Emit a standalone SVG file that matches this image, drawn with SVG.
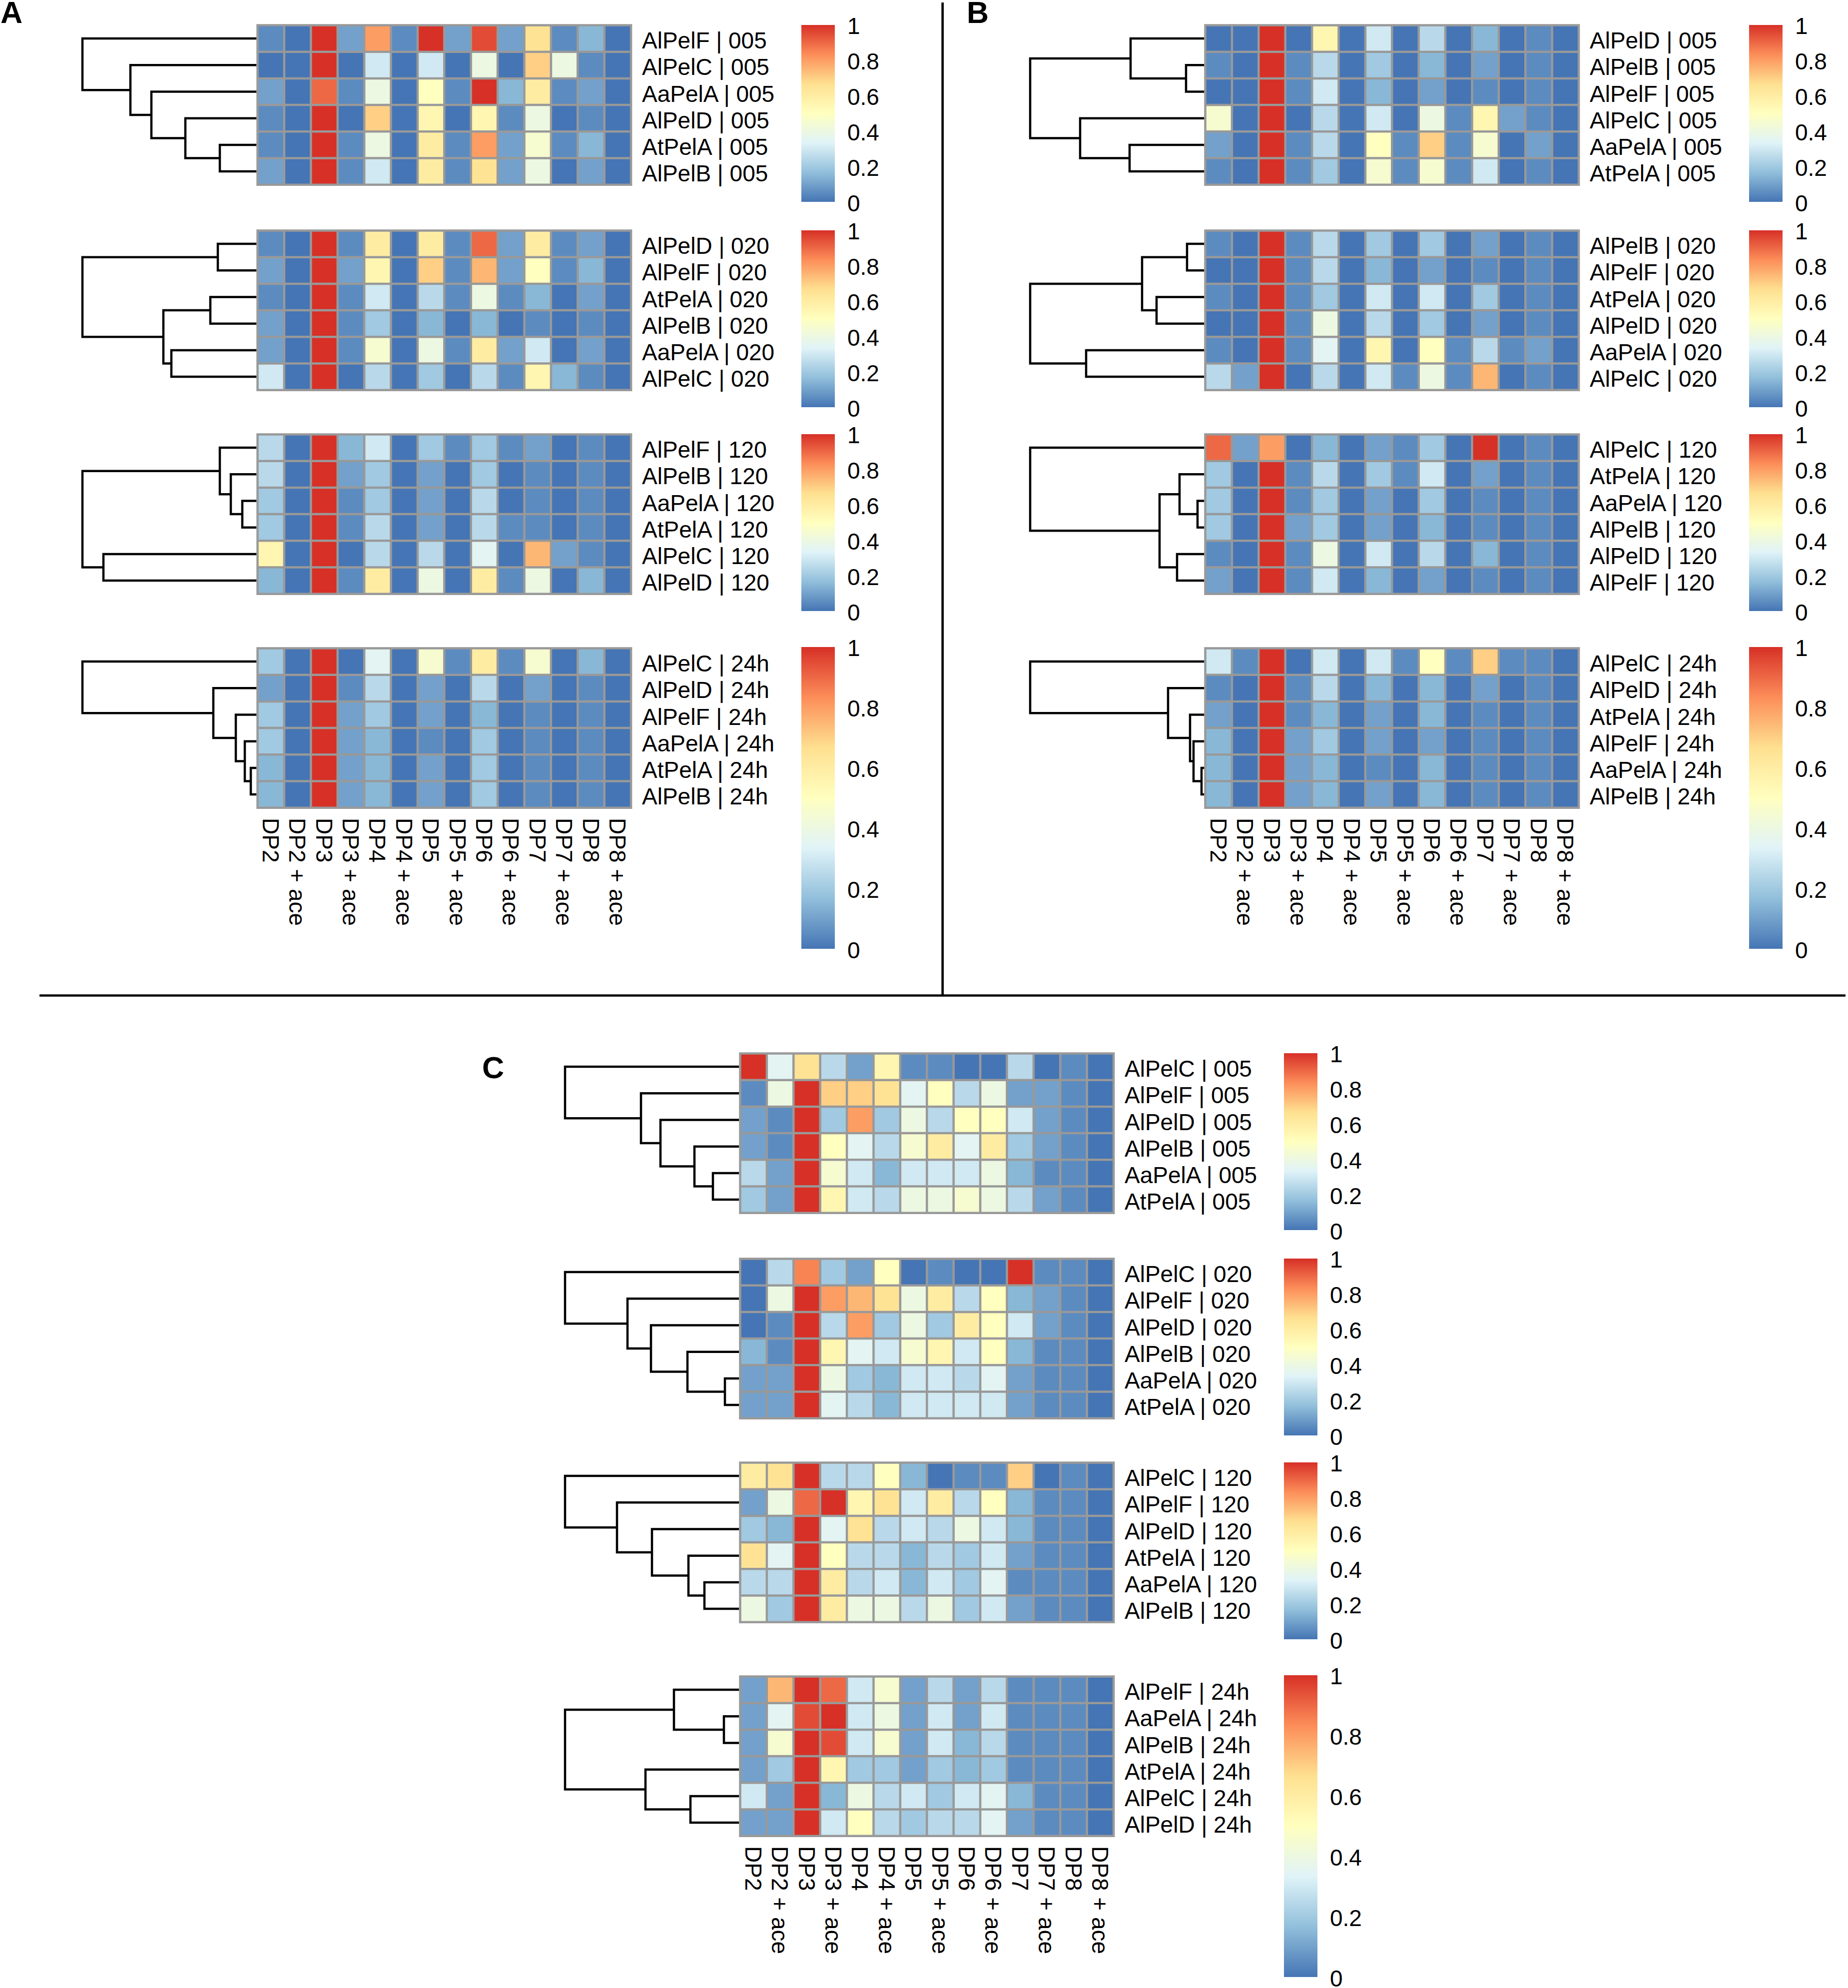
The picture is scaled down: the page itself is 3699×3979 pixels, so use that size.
<svg xmlns="http://www.w3.org/2000/svg" xmlns:xlink="http://www.w3.org/1999/xlink" width="3699" height="3979" viewBox="0 0 3699 3979">
<style>
.k0{fill:#4575B4}.k1{fill:#5C8BC0}.k2{fill:#73A1CB}.k3{fill:#89B8D7}.k4{fill:#A1C9E1}.k5{fill:#B9D9EA}.k6{fill:#D0E9F2}.k7{fill:#E3F4F2}.k8{fill:#ECF8E1}.k9{fill:#F6FBD0}.k10{fill:#FFFFBF}.k11{fill:#FFF6B1}.k12{fill:#FEECA3}.k13{fill:#FEE395}.k14{fill:#FECF85}.k15{fill:#FDB775}.k16{fill:#FC9E64}.k17{fill:#F88454}.k18{fill:#ED6845}.k19{fill:#E24C36}.k20{fill:#D73027}
.grid{fill:none;stroke:#999999;stroke-width:4.5;stroke-linecap:square}
.den{fill:none;stroke:#000;stroke-width:4.5}
.cb{fill:url(#rb)}
text{font-family:"Liberation Sans",Arial,sans-serif;font-size:46px;fill:#000}
.pl{font-size:61px;font-weight:bold}
.sep{stroke:#000;stroke-width:4.7}
</style>
<defs>
<linearGradient id="rb" x1="0" y1="1" x2="0" y2="0">
<stop offset="0" stop-color="#4575B4"/><stop offset="0.1667" stop-color="#91BFDB"/><stop offset="0.3333" stop-color="#E0F3F8"/><stop offset="0.5" stop-color="#FFFFBF"/><stop offset="0.6667" stop-color="#FEE090"/><stop offset="0.8333" stop-color="#FC8D59"/><stop offset="1" stop-color="#D73027"/>
</linearGradient>
<path id="grid" class="grid" d="M0 0V319.2M53.4 0V319.2M106.8 0V319.2M160.2 0V319.2M213.6 0V319.2M267 0V319.2M320.4 0V319.2M373.8 0V319.2M427.2 0V319.2M480.6 0V319.2M534 0V319.2M587.4 0V319.2M640.8 0V319.2M694.2 0V319.2M747.6 0V319.2M0 0H747.6M0 53.2H747.6M0 106.4H747.6M0 159.6H747.6M0 212.8H747.6M0 266H747.6M0 319.2H747.6"/>
<g id="bars">
<rect class="cb" x="1604" y="50" width="67" height="354"/>
<rect class="cb" x="1604" y="461" width="67" height="354"/>
<rect class="cb" x="1604" y="869" width="67" height="354"/>
<rect class="cb" x="1604" y="1295" width="67" height="604"/>
<g>
<text x="1696" y="68">1</text><text x="1696" y="139">0.8</text><text x="1696" y="210">0.6</text><text x="1696" y="281">0.4</text><text x="1696" y="352">0.2</text><text x="1696" y="423">0</text>
<text x="1696" y="479">1</text><text x="1696" y="550">0.8</text><text x="1696" y="621">0.6</text><text x="1696" y="692">0.4</text><text x="1696" y="763">0.2</text><text x="1696" y="834">0</text>
<text x="1696" y="887">1</text><text x="1696" y="958">0.8</text><text x="1696" y="1029">0.6</text><text x="1696" y="1100">0.4</text><text x="1696" y="1171">0.2</text><text x="1696" y="1242">0</text>
<text x="1696" y="1313">1</text><text x="1696" y="1434">0.8</text><text x="1696" y="1555">0.6</text><text x="1696" y="1676">0.4</text><text x="1696" y="1797">0.2</text><text x="1696" y="1918">0</text>
</g>
</g>
<g id="collabs" transform="rotate(90)">
<text x="1637" y="-525.7">DP2</text><text x="1637" y="-579.1">DP2 + ace</text><text x="1637" y="-632.5">DP3</text><text x="1637" y="-685.9">DP3 + ace</text><text x="1637" y="-739.3">DP4</text><text x="1637" y="-792.7">DP4 + ace</text><text x="1637" y="-846.1">DP5</text><text x="1637" y="-899.5">DP5 + ace</text><text x="1637" y="-952.9">DP6</text><text x="1637" y="-1006.3">DP6 + ace</text><text x="1637" y="-1059.7">DP7</text><text x="1637" y="-1113.1">DP7 + ace</text><text x="1637" y="-1166.5">DP8</text><text x="1637" y="-1219.9">DP8 + ace</text>
</g>
</defs>
<rect width="3699" height="3979" fill="#fff"/>

<g id="separators">
<line class="sep" x1="1886.7" y1="5" x2="1886.7" y2="1992.5"/>
<line class="sep" x1="79" y1="1992.5" x2="3694" y2="1992.5"/>
</g>
<g id="panel-letters">
<text class="pl" x="1" y="46">A</text>
<text class="pl" x="1935" y="46">B</text>
<text class="pl" x="965" y="2158">C</text>
</g>

<!-- PANEL A -->
<g id="panelA">
<g id="A-dendrograms">
<path class="den" d="M513.5 289.9H440V343.1H513.5M513.5 236.7H371V316.5H440M513.5 183.5H303V276.6H371M513.5 130.3H261V230.05H303M513.5 77.1H165V180.18H261"/>
<path class="den" d="M513.5 488.1H436V541.3H513.5M513.5 594.5H421V647.7H513.5M513.5 700.9H343V754.1H513.5M421 621.1H327V727.5H343M436 514.7H165V674.3H327"/>
<path class="den" d="M513.5 1002.5H485V1055.7H513.5M513.5 949.3H462V1029.1H485M513.5 896.1H440V989.2H462M513.5 1108.9H207V1162.1H513.5M440 942.65H165V1135.5H207"/>
<path class="den" d="M513.5 1536.9H502V1590.1H513.5M513.5 1483.7H490V1563.5H502M513.5 1430.5H472V1523.6H490M513.5 1377.3H427V1477.05H472M513.5 1324.1H165V1427.18H427"/>
</g>
<g id="A-005" transform="translate(515.5,50.5)"><g transform="scale(53.4,53.2)"><rect class="k0" width="14" height="6"/>
<path class="k1" d="M0 0h1v1h-1zM5 0h1v1h-1zM11 0h1v1h-1zM12 1h1v1h-1zM3 2h1v1h-1zM7 2h1v1h-1zM11 2h1v1h-1zM0 3h1v2h-1zM9 3h1v1h-1zM12 3h1v1h-1zM3 4h1v2h-1zM7 4h1v2h-1zM11 4h1v1h-1z"/>
<path class="k2" d="M3 0h1v1h-1zM7 0h1v1h-1zM9 0h1v1h-1zM0 2h1v1h-1zM12 2h1v1h-1zM9 4h1v2h-1zM0 5h1v1h-1zM12 5h1v1h-1z"/>
<path class="k3" d="M12 0h1v1h-1zM9 2h1v1h-1zM12 4h1v1h-1z"/>
<path class="k6" d="M4 1h1v1h-1zM6 1h1v1h-1zM4 5h1v1h-1z"/>
<path class="k8" d="M8 1h1v1h-1zM11 1h1v1h-1zM4 2h1v1h-1zM10 3h1v1h-1zM4 4h1v1h-1zM10 5h1v1h-1z"/>
<path class="k9" d="M10 4h1v1h-1z"/>
<path class="k10" d="M6 2h1v1h-1z"/>
<path class="k11" d="M6 3h1v1h-1zM8 3h1v1h-1z"/>
<path class="k12" d="M10 2h1v1h-1zM6 4h1v2h-1z"/>
<path class="k13" d="M10 0h1v1h-1zM8 5h1v1h-1z"/>
<path class="k14" d="M10 1h1v1h-1zM4 3h1v1h-1z"/>
<path class="k16" d="M4 0h1v1h-1zM8 4h1v1h-1z"/>
<path class="k18" d="M2 2h1v1h-1z"/>
<path class="k19" d="M8 0h1v1h-1z"/>
<path class="k20" d="M2 0h1v2h-1zM6 0h1v1h-1zM8 2h1v1h-1zM2 3h1v3h-1z"/>
</g><use href="#grid"/></g>
<g id="A-020" transform="translate(515.5,461.5)"><g transform="scale(53.4,53.2)"><rect class="k0" width="14" height="6"/>
<path class="k1" d="M0 0h1v1h-1zM3 0h1v1h-1zM7 0h1v3h-1zM11 0h1v2h-1zM0 2h1v1h-1zM3 2h1v3h-1zM9 2h1v1h-1zM10 3h1v1h-1zM12 3h1v1h-1zM7 4h1v1h-1zM9 5h1v1h-1zM12 5h1v1h-1z"/>
<path class="k2" d="M9 0h1v2h-1zM12 0h1v1h-1zM0 1h1v1h-1zM3 1h1v1h-1zM12 2h1v1h-1zM0 3h1v2h-1zM9 4h1v1h-1zM12 4h1v1h-1z"/>
<path class="k3" d="M12 1h1v1h-1zM10 2h1v1h-1zM6 3h1v1h-1zM8 3h1v1h-1zM11 5h1v1h-1z"/>
<path class="k4" d="M4 3h1v1h-1zM6 5h1v1h-1z"/>
<path class="k5" d="M6 2h1v1h-1zM4 5h1v1h-1zM8 5h1v1h-1z"/>
<path class="k6" d="M4 2h1v1h-1zM10 4h1v1h-1zM0 5h1v1h-1z"/>
<path class="k8" d="M8 2h1v1h-1zM6 4h1v1h-1z"/>
<path class="k9" d="M4 4h1v1h-1z"/>
<path class="k10" d="M10 1h1v1h-1z"/>
<path class="k11" d="M4 1h1v1h-1zM10 5h1v1h-1z"/>
<path class="k12" d="M4 0h1v1h-1zM6 0h1v1h-1zM10 0h1v1h-1zM8 4h1v1h-1z"/>
<path class="k14" d="M6 1h1v1h-1z"/>
<path class="k15" d="M8 1h1v1h-1z"/>
<path class="k18" d="M8 0h1v1h-1z"/>
<path class="k20" d="M2 0h1v6h-1z"/>
</g><use href="#grid"/></g>
<g id="A-120" transform="translate(515.5,869.5)"><g transform="scale(53.4,53.2)"><rect class="k0" width="14" height="6"/>
<path class="k1" d="M7 0h1v1h-1zM9 0h1v1h-1zM12 0h1v5h-1zM10 1h1v3h-1zM3 2h1v2h-1zM9 3h1v1h-1zM3 5h1v1h-1zM9 5h1v1h-1z"/>
<path class="k2" d="M10 0h1v1h-1zM3 1h1v1h-1zM6 1h1v3h-1zM11 4h1v1h-1z"/>
<path class="k3" d="M3 0h1v1h-1zM0 5h1v1h-1zM12 5h1v1h-1z"/>
<path class="k4" d="M6 0h1v1h-1zM8 0h1v2h-1zM4 1h1v2h-1zM0 2h1v2h-1z"/>
<path class="k5" d="M0 0h1v2h-1zM8 2h1v2h-1zM4 3h1v2h-1zM6 4h1v1h-1z"/>
<path class="k6" d="M4 0h1v1h-1z"/>
<path class="k7" d="M8 4h1v1h-1z"/>
<path class="k8" d="M6 5h1v1h-1zM10 5h1v1h-1z"/>
<path class="k11" d="M0 4h1v1h-1z"/>
<path class="k12" d="M4 5h1v1h-1zM8 5h1v1h-1z"/>
<path class="k15" d="M10 4h1v1h-1z"/>
<path class="k20" d="M2 0h1v6h-1z"/>
</g><use href="#grid"/></g>
<g id="A-24h" transform="translate(515.5,1297.5)"><g transform="scale(53.4,53.2)"><rect class="k0" width="14" height="6"/>
<path class="k1" d="M7 0h1v1h-1zM9 0h1v1h-1zM3 1h1v1h-1zM12 1h1v5h-1zM10 2h1v4h-1zM6 3h1v1h-1z"/>
<path class="k2" d="M0 1h1v1h-1zM6 1h1v2h-1zM10 1h1v1h-1zM3 2h1v4h-1zM6 4h1v2h-1z"/>
<path class="k3" d="M12 0h1v1h-1zM8 2h1v1h-1zM4 3h1v3h-1zM0 4h1v2h-1z"/>
<path class="k4" d="M0 0h1v1h-1zM0 2h1v2h-1zM4 2h1v1h-1zM8 3h1v3h-1z"/>
<path class="k5" d="M4 1h1v1h-1zM8 1h1v1h-1z"/>
<path class="k7" d="M4 0h1v1h-1z"/>
<path class="k9" d="M6 0h1v1h-1zM10 0h1v1h-1z"/>
<path class="k12" d="M8 0h1v1h-1z"/>
<path class="k20" d="M2 0h1v6h-1z"/>
</g><use href="#grid"/></g>
<g id="A-rowlabels">
<text x="1285" y="97.1">AlPelF | 005</text><text x="1285" y="150.3">AlPelC | 005</text><text x="1285" y="203.5">AaPelA | 005</text><text x="1285" y="256.7">AlPelD | 005</text><text x="1285" y="309.9">AtPelA | 005</text><text x="1285" y="363.1">AlPelB | 005</text>
<text x="1285" y="508.1">AlPelD | 020</text><text x="1285" y="561.3">AlPelF | 020</text><text x="1285" y="614.5">AtPelA | 020</text><text x="1285" y="667.7">AlPelB | 020</text><text x="1285" y="720.9">AaPelA | 020</text><text x="1285" y="774.1">AlPelC | 020</text>
<text x="1285" y="916.1">AlPelF | 120</text><text x="1285" y="969.3">AlPelB | 120</text><text x="1285" y="1022.5">AaPelA | 120</text><text x="1285" y="1075.7">AtPelA | 120</text><text x="1285" y="1128.9">AlPelC | 120</text><text x="1285" y="1182.1">AlPelD | 120</text>
<text x="1285" y="1344.1">AlPelC | 24h</text><text x="1285" y="1397.3">AlPelD | 24h</text><text x="1285" y="1450.5">AlPelF | 24h</text><text x="1285" y="1503.7">AaPelA | 24h</text><text x="1285" y="1556.9">AtPelA | 24h</text><text x="1285" y="1610.1">AlPelB | 24h</text>
</g>
<use href="#collabs"/>
<use href="#bars"/>
</g>

<!-- PANEL B -->
<g id="panelB" transform="translate(1897,0)">
<g id="B-dendrograms">
<path class="den" d="M513.5 130.3H477V183.5H513.5M513.5 77.1H366V156.9H477M513.5 289.9H364V343.1H513.5M513.5 236.7H265V316.5H364M366 117H165V276.6H265"/>
<path class="den" d="M513.5 488.1H479V541.3H513.5M513.5 594.5H418V647.7H513.5M479 514.7H389V621.1H418M513.5 700.9H277V754.1H513.5M389 567.9H165V727.5H277"/>
<path class="den" d="M513.5 1002.5H500V1055.7H513.5M513.5 949.3H464V1029.1H500M513.5 1108.9H459V1162.1H513.5M464 989.2H424V1135.5H459M513.5 896.1H165V1062.35H424"/>
<path class="den" d="M513.5 1536.9H508V1590.1H513.5M513.5 1483.7H492V1563.5H508M513.5 1430.5H485V1523.6H492M513.5 1377.3H441V1477.05H485M513.5 1324.1H165V1427.18H441"/>
</g>
<g id="B-005" transform="translate(515.5,50.5)"><g transform="scale(53.4,53.2)"><rect class="k0" width="14" height="6"/>
<path class="k1" d="M12 0h1v4h-1zM0 1h1v1h-1zM3 1h1v2h-1zM10 2h1v1h-1zM9 3h1v3h-1zM3 4h1v2h-1zM7 4h1v2h-1zM0 5h1v1h-1zM12 5h1v1h-1z"/>
<path class="k2" d="M10 1h1v1h-1zM8 2h1v1h-1zM11 3h1v1h-1zM0 4h1v1h-1zM12 4h1v1h-1z"/>
<path class="k3" d="M10 0h1v1h-1zM8 1h1v1h-1zM6 2h1v1h-1z"/>
<path class="k4" d="M6 1h1v1h-1zM4 5h1v1h-1z"/>
<path class="k5" d="M8 0h1v1h-1zM4 1h1v1h-1zM4 3h1v2h-1z"/>
<path class="k6" d="M6 0h1v1h-1zM4 2h1v1h-1zM6 3h1v1h-1zM10 5h1v1h-1z"/>
<path class="k8" d="M8 3h1v1h-1z"/>
<path class="k9" d="M0 3h1v1h-1zM10 4h1v1h-1zM6 5h1v1h-1zM8 5h1v1h-1z"/>
<path class="k10" d="M6 4h1v1h-1z"/>
<path class="k11" d="M4 0h1v1h-1zM10 3h1v1h-1z"/>
<path class="k14" d="M8 4h1v1h-1z"/>
<path class="k20" d="M2 0h1v6h-1z"/>
</g><use href="#grid"/></g>
<g id="B-020" transform="translate(515.5,461.5)"><g transform="scale(53.4,53.2)"><rect class="k0" width="14" height="6"/>
<path class="k1" d="M0 0h1v1h-1zM3 0h1v5h-1zM12 0h1v4h-1zM10 1h1v1h-1zM0 2h1v1h-1zM0 4h1v1h-1zM9 4h1v2h-1zM11 4h1v1h-1zM7 5h1v1h-1zM12 5h1v1h-1z"/>
<path class="k2" d="M10 0h1v1h-1zM8 1h1v1h-1zM10 3h1v1h-1zM12 4h1v1h-1zM1 5h1v1h-1z"/>
<path class="k3" d="M6 1h1v1h-1z"/>
<path class="k4" d="M6 0h1v1h-1zM8 0h1v1h-1zM4 2h1v1h-1zM10 2h1v1h-1zM8 3h1v1h-1z"/>
<path class="k5" d="M4 0h1v2h-1zM6 3h1v1h-1zM10 4h1v1h-1zM0 5h1v1h-1zM4 5h1v1h-1z"/>
<path class="k6" d="M6 2h1v1h-1zM8 2h1v1h-1zM6 5h1v1h-1z"/>
<path class="k7" d="M4 4h1v1h-1z"/>
<path class="k8" d="M4 3h1v1h-1zM8 5h1v1h-1z"/>
<path class="k10" d="M8 4h1v1h-1z"/>
<path class="k11" d="M6 4h1v1h-1z"/>
<path class="k15" d="M10 5h1v1h-1z"/>
<path class="k20" d="M2 0h1v6h-1z"/>
</g><use href="#grid"/></g>
<g id="B-120" transform="translate(515.5,869.5)"><g transform="scale(53.4,53.2)"><rect class="k0" width="14" height="6"/>
<path class="k1" d="M7 0h1v2h-1zM12 0h1v6h-1zM3 1h1v2h-1zM10 2h1v2h-1zM0 4h1v1h-1zM3 4h1v2h-1zM10 5h1v1h-1z"/>
<path class="k2" d="M1 0h1v1h-1zM6 0h1v1h-1zM10 1h1v1h-1zM6 2h1v2h-1zM3 3h1v1h-1zM0 5h1v1h-1zM8 5h1v1h-1z"/>
<path class="k3" d="M4 0h1v1h-1zM8 3h1v1h-1zM10 4h1v1h-1zM6 5h1v1h-1z"/>
<path class="k4" d="M8 0h1v1h-1zM0 1h1v3h-1zM6 1h1v1h-1zM4 2h1v2h-1zM8 2h1v1h-1z"/>
<path class="k5" d="M4 1h1v1h-1zM8 4h1v1h-1z"/>
<path class="k6" d="M8 1h1v1h-1zM6 4h1v1h-1zM4 5h1v1h-1z"/>
<path class="k8" d="M4 4h1v1h-1z"/>
<path class="k16" d="M2 0h1v1h-1z"/>
<path class="k18" d="M0 0h1v1h-1z"/>
<path class="k20" d="M10 0h1v1h-1zM2 1h1v5h-1z"/>
</g><use href="#grid"/></g>
<g id="B-24h" transform="translate(515.5,1297.5)"><g transform="scale(53.4,53.2)"><rect class="k0" width="14" height="6"/>
<path class="k1" d="M1 0h1v1h-1zM7 0h1v1h-1zM9 0h1v1h-1zM11 0h1v1h-1zM12 0h1v6h-1zM0 1h1v1h-1zM3 1h1v2h-1zM10 2h1v4h-1zM6 4h1v1h-1z"/>
<path class="k2" d="M10 1h1v1h-1zM0 2h1v1h-1zM6 2h1v2h-1zM3 3h1v3h-1zM8 3h1v1h-1zM6 5h1v1h-1z"/>
<path class="k3" d="M6 1h1v1h-1zM8 1h1v2h-1zM4 2h1v1h-1zM0 3h1v3h-1zM4 4h1v2h-1zM8 4h1v2h-1z"/>
<path class="k4" d="M4 3h1v1h-1z"/>
<path class="k5" d="M4 1h1v1h-1z"/>
<path class="k6" d="M0 0h1v1h-1zM4 0h1v1h-1zM6 0h1v1h-1z"/>
<path class="k10" d="M8 0h1v1h-1z"/>
<path class="k14" d="M10 0h1v1h-1z"/>
<path class="k20" d="M2 0h1v6h-1z"/>
</g><use href="#grid"/></g>
<g id="B-rowlabels">
<text x="1285" y="97.1">AlPelD | 005</text><text x="1285" y="150.3">AlPelB | 005</text><text x="1285" y="203.5">AlPelF | 005</text><text x="1285" y="256.7">AlPelC | 005</text><text x="1285" y="309.9">AaPelA | 005</text><text x="1285" y="363.1">AtPelA | 005</text>
<text x="1285" y="508.1">AlPelB | 020</text><text x="1285" y="561.3">AlPelF | 020</text><text x="1285" y="614.5">AtPelA | 020</text><text x="1285" y="667.7">AlPelD | 020</text><text x="1285" y="720.9">AaPelA | 020</text><text x="1285" y="774.1">AlPelC | 020</text>
<text x="1285" y="916.1">AlPelC | 120</text><text x="1285" y="969.3">AtPelA | 120</text><text x="1285" y="1022.5">AaPelA | 120</text><text x="1285" y="1075.7">AlPelB | 120</text><text x="1285" y="1128.9">AlPelD | 120</text><text x="1285" y="1182.1">AlPelF | 120</text>
<text x="1285" y="1344.1">AlPelC | 24h</text><text x="1285" y="1397.3">AlPelD | 24h</text><text x="1285" y="1450.5">AtPelA | 24h</text><text x="1285" y="1503.7">AlPelF | 24h</text><text x="1285" y="1556.9">AaPelA | 24h</text><text x="1285" y="1610.1">AlPelB | 24h</text>
</g>
<use href="#collabs"/>
<use href="#bars"/>
</g>

<!-- PANEL C -->
<g id="panelC" transform="translate(966,2058)">
<g id="C-dendrograms">
<path class="den" d="M513.5 289.9H461V343.1H513.5M513.5 236.7H424V316.5H461M513.5 183.5H356V276.6H424M513.5 130.3H317V230.05H356M513.5 77.1H165V180.18H317"/>
<path class="den" d="M513.5 700.9H485V754.1H513.5M513.5 647.7H410V727.5H485M513.5 594.5H337V687.6H410M513.5 541.3H290V641.05H337M513.5 488.1H165V591.18H290"/>
<path class="den" d="M513.5 1108.9H444V1162.1H513.5M513.5 1055.7H412V1135.5H444M513.5 1002.5H339V1095.6H412M513.5 949.3H269V1049.05H339M513.5 896.1H165V999.18H269"/>
<path class="den" d="M513.5 1377.3H483V1430.5H513.5M513.5 1324.1H383V1403.9H483M513.5 1536.9H416V1590.1H513.5M513.5 1483.7H326V1563.5H416M383 1364H165V1523.6H326"/>
</g>
<g id="C-005" transform="translate(515.5,50.5)"><g transform="scale(53.4,53.2)"><rect class="k0" width="14" height="6"/>
<path class="k1" d="M6 0h2v1h-2zM12 0h1v6h-1zM0 1h1v1h-1zM1 2h1v2h-1zM11 4h1v1h-1z"/>
<path class="k2" d="M4 0h1v1h-1zM10 1h2v1h-2zM0 2h1v2h-1zM11 2h1v2h-1zM1 4h1v2h-1zM11 5h1v1h-1z"/>
<path class="k3" d="M5 4h1v1h-1zM10 4h1v1h-1z"/>
<path class="k4" d="M3 2h1v1h-1zM5 2h1v1h-1zM10 3h1v1h-1zM0 5h1v1h-1z"/>
<path class="k5" d="M3 0h1v1h-1zM10 0h1v1h-1zM8 1h1v1h-1zM7 2h1v1h-1zM5 3h1v1h-1zM0 4h1v1h-1zM5 5h1v1h-1zM10 5h1v1h-1z"/>
<path class="k6" d="M10 2h1v1h-1zM4 4h1v2h-1zM6 4h3v1h-3z"/>
<path class="k7" d="M1 0h1v1h-1zM6 1h1v1h-1zM4 3h1v1h-1zM8 3h1v1h-1z"/>
<path class="k8" d="M1 1h1v1h-1zM9 1h1v1h-1zM6 2h1v1h-1zM9 4h1v2h-1zM6 5h2v1h-2z"/>
<path class="k9" d="M6 3h1v1h-1zM3 4h1v1h-1zM8 5h1v1h-1z"/>
<path class="k10" d="M7 1h1v1h-1zM8 2h2v1h-2zM3 3h1v1h-1z"/>
<path class="k11" d="M5 0h1v1h-1zM3 5h1v1h-1z"/>
<path class="k12" d="M7 3h1v1h-1zM9 3h1v1h-1z"/>
<path class="k13" d="M2 0h1v1h-1zM5 1h1v1h-1z"/>
<path class="k14" d="M3 1h2v1h-2z"/>
<path class="k16" d="M4 2h1v1h-1z"/>
<path class="k20" d="M0 0h1v1h-1zM2 1h1v5h-1z"/>
</g><use href="#grid"/></g>
<g id="C-020" transform="translate(515.5,461.5)"><g transform="scale(53.4,53.2)"><rect class="k0" width="14" height="6"/>
<path class="k1" d="M7 0h1v1h-1zM11 0h2v1h-2zM12 1h1v5h-1zM1 2h1v2h-1zM11 3h1v3h-1z"/>
<path class="k2" d="M4 0h1v1h-1zM11 1h1v2h-1zM0 4h2v2h-2zM10 4h1v2h-1z"/>
<path class="k3" d="M10 1h1v1h-1zM0 3h1v1h-1zM10 3h1v1h-1zM5 4h1v2h-1z"/>
<path class="k4" d="M3 0h1v1h-1zM5 2h1v1h-1zM7 2h1v1h-1zM4 4h1v1h-1z"/>
<path class="k5" d="M1 0h1v1h-1zM8 1h1v1h-1zM3 2h1v1h-1zM8 4h1v1h-1zM4 5h1v1h-1z"/>
<path class="k6" d="M10 2h1v1h-1zM5 3h1v1h-1zM8 3h1v1h-1zM6 4h2v2h-2zM8 5h2v1h-2z"/>
<path class="k7" d="M4 3h1v1h-1zM9 4h1v1h-1zM3 5h1v1h-1z"/>
<path class="k8" d="M1 1h1v1h-1zM6 1h1v2h-1zM3 4h1v1h-1z"/>
<path class="k9" d="M6 3h1v1h-1z"/>
<path class="k10" d="M5 0h1v1h-1zM9 1h1v3h-1z"/>
<path class="k11" d="M3 3h1v1h-1zM7 3h1v1h-1z"/>
<path class="k12" d="M7 1h1v1h-1zM8 2h1v1h-1z"/>
<path class="k13" d="M5 1h1v1h-1z"/>
<path class="k15" d="M4 1h1v1h-1z"/>
<path class="k16" d="M3 1h1v1h-1zM4 2h1v1h-1z"/>
<path class="k17" d="M2 0h1v1h-1z"/>
<path class="k20" d="M10 0h1v1h-1zM2 1h1v5h-1z"/>
</g><use href="#grid"/></g>
<g id="C-120" transform="translate(515.5,869.5)"><g transform="scale(53.4,53.2)"><rect class="k0" width="14" height="6"/>
<path class="k1" d="M8 0h2v1h-2zM12 0h1v1h-1zM11 1h2v5h-2zM10 4h1v1h-1z"/>
<path class="k2" d="M0 1h1v1h-1zM10 3h1v1h-1zM10 5h1v1h-1z"/>
<path class="k3" d="M6 0h1v1h-1zM10 1h1v2h-1zM1 2h1v1h-1zM6 3h1v2h-1z"/>
<path class="k4" d="M0 2h1v1h-1zM8 3h1v3h-1zM1 5h1v1h-1z"/>
<path class="k5" d="M3 0h2v1h-2zM8 1h1v1h-1zM5 2h1v2h-1zM7 2h1v2h-1zM4 3h1v2h-1zM0 4h2v1h-2zM6 5h1v1h-1z"/>
<path class="k6" d="M6 1h1v2h-1zM9 2h1v2h-1zM5 4h1v1h-1zM7 4h1v1h-1zM9 5h1v1h-1z"/>
<path class="k7" d="M3 2h1v1h-1zM1 3h1v1h-1zM9 4h1v1h-1z"/>
<path class="k8" d="M1 1h1v1h-1zM8 2h1v1h-1zM0 5h1v1h-1zM4 5h2v1h-2zM7 5h1v1h-1z"/>
<path class="k10" d="M5 0h1v1h-1zM9 1h1v1h-1zM3 3h1v1h-1z"/>
<path class="k11" d="M4 1h1v1h-1z"/>
<path class="k12" d="M0 0h1v1h-1zM7 1h1v1h-1zM3 4h1v2h-1z"/>
<path class="k13" d="M1 0h1v1h-1zM5 1h1v1h-1zM4 2h1v1h-1zM0 3h1v1h-1z"/>
<path class="k14" d="M10 0h1v1h-1z"/>
<path class="k18" d="M2 1h1v1h-1z"/>
<path class="k20" d="M2 0h1v1h-1zM3 1h1v1h-1zM2 2h1v4h-1z"/>
</g><use href="#grid"/></g>
<g id="C-24h" transform="translate(515.5,1297.5)"><g transform="scale(53.4,53.2)"><rect class="k0" width="14" height="6"/>
<path class="k1" d="M10 0h1v4h-1zM11 0h2v6h-2z"/>
<path class="k2" d="M0 0h1v4h-1zM6 0h1v4h-1zM8 0h1v2h-1zM1 4h1v1h-1zM0 5h2v1h-2zM10 5h1v1h-1z"/>
<path class="k3" d="M8 2h1v2h-1zM3 4h1v1h-1zM10 4h1v1h-1z"/>
<path class="k4" d="M1 3h1v1h-1zM4 3h2v1h-2zM7 3h1v2h-1zM9 3h1v1h-1zM6 5h1v1h-1z"/>
<path class="k5" d="M7 0h1v1h-1zM9 0h1v1h-1zM9 2h1v1h-1zM5 4h1v2h-1zM7 5h2v1h-2z"/>
<path class="k6" d="M4 0h1v3h-1zM7 1h1v2h-1zM9 1h1v1h-1zM0 4h1v1h-1zM6 4h1v1h-1zM8 4h1v1h-1zM3 5h1v1h-1z"/>
<path class="k7" d="M1 1h1v1h-1zM9 4h1v2h-1z"/>
<path class="k8" d="M5 1h1v1h-1zM4 4h1v1h-1z"/>
<path class="k9" d="M5 0h1v1h-1zM1 2h1v1h-1zM5 2h1v1h-1z"/>
<path class="k10" d="M4 5h1v1h-1z"/>
<path class="k11" d="M3 3h1v1h-1z"/>
<path class="k15" d="M1 0h1v1h-1z"/>
<path class="k18" d="M3 0h1v1h-1z"/>
<path class="k19" d="M2 1h1v1h-1zM3 2h1v1h-1z"/>
<path class="k20" d="M2 0h1v1h-1zM2 2h1v4h-1zM3 1h1v1h-1z"/>
</g><use href="#grid"/></g>
<g id="C-rowlabels">
<text x="1285" y="97.1">AlPelC | 005</text><text x="1285" y="150.3">AlPelF | 005</text><text x="1285" y="203.5">AlPelD | 005</text><text x="1285" y="256.7">AlPelB | 005</text><text x="1285" y="309.9">AaPelA | 005</text><text x="1285" y="363.1">AtPelA | 005</text>
<text x="1285" y="508.1">AlPelC | 020</text><text x="1285" y="561.3">AlPelF | 020</text><text x="1285" y="614.5">AlPelD | 020</text><text x="1285" y="667.7">AlPelB | 020</text><text x="1285" y="720.9">AaPelA | 020</text><text x="1285" y="774.1">AtPelA | 020</text>
<text x="1285" y="916.1">AlPelC | 120</text><text x="1285" y="969.3">AlPelF | 120</text><text x="1285" y="1022.5">AlPelD | 120</text><text x="1285" y="1075.7">AtPelA | 120</text><text x="1285" y="1128.9">AaPelA | 120</text><text x="1285" y="1182.1">AlPelB | 120</text>
<text x="1285" y="1344.1">AlPelF | 24h</text><text x="1285" y="1397.3">AaPelA | 24h</text><text x="1285" y="1450.5">AlPelB | 24h</text><text x="1285" y="1503.7">AtPelA | 24h</text><text x="1285" y="1556.9">AlPelC | 24h</text><text x="1285" y="1610.1">AlPelD | 24h</text>
</g>
<use href="#collabs"/>
<use href="#bars"/>
</g>
</svg>
